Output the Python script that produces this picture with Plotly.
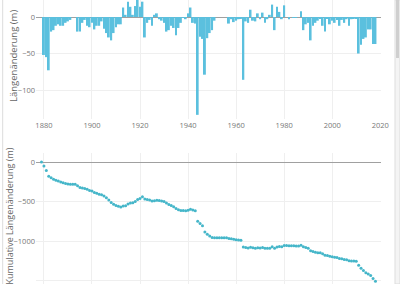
import plotly.graph_objects as go

# ---- data ----
years = list(range(1880, 2019))
annual_change = [
    -52, -55, -73, -20, -18, -12, -10, -12, -12, -8,          # 1880-1889
    -6, -4, 0, 0, -20, -20, -8, -4, -12, -14,                 # 1890-1899
    -8, -17, -12, -12, -6, -16, -22, -28, -32, -22,           # 1900-1909
    -14, -10, -10, 13, 3, 21, 14, 3, 15, 25,                  # 1910-1919
    14, 21, -28, -8, -4, -12, 3, 5, -3, -5,                   # 1920-1929
    -8, -20, -18, -12, -15, -25, -15, -8, -1, -3,             # 1930-1939
    5, 13, -8, -9, -134, -27, -30, -79, -29, -22,             # 1940-1949
    -18, -5, 0, 0, 0, 0, 0, -9, -3, -7,                       # 1950-1959
    -5, -3, -2, -86, -6, -8, 10, -5, -6, 5,                   # 1960-1969
    -3, 6, -8, -3, 3, 17, -18, 14, 7, -3,                     # 1970-1979
    16, 0, -3, 0, -1, -1, 0, 8, -18, -10,                     # 1980-1989
    -8, -32, -12, -8, -5, -2, -12, -20, -2, -10,              # 1990-1999
    -5, -8, -4, -12, -4, -8, -3, -12, -3, -2,                 # 2000-2009
    -2, -50, -38, -30, -28, -17, -17, -37, -37,               # 2010-2018
]

cum_years = list(range(1879, 2019))
cumulative_change = [
    0,                                                                  # 1879
    -52, -107, -180, -200, -218, -230, -240, -252, -264, -272,          # 1880-1889
    -278, -282, -282, -282, -302, -322, -330, -334, -346, -360,         # 1890-1899
    -368, -385, -397, -409, -415, -431, -453, -481, -513, -535,         # 1900-1909
    -549, -559, -569, -556, -553, -532, -518, -515, -500, -475,         # 1910-1919
    -461, -440, -468, -476, -480, -492, -489, -484, -487, -492,         # 1920-1929
    -500, -520, -538, -550, -565, -590, -605, -613, -614, -617,         # 1930-1939
    -612, -599, -607, -616, -750, -777, -807, -886, -915, -937,         # 1940-1949
    -955, -960, -960, -960, -960, -960, -960, -969, -972, -979,         # 1950-1959
    -984, -987, -989, -1075, -1081, -1089, -1079, -1084, -1090, -1085,  # 1960-1969
    -1088, -1082, -1090, -1093, -1090, -1073, -1091, -1077, -1070, -1073,  # 1970-1979
    -1057, -1057, -1060, -1060, -1061, -1062, -1062, -1054, -1072, -1082,  # 1980-1989
    -1090, -1122, -1134, -1142, -1147, -1149, -1161, -1181, -1183, -1193,  # 1990-1999
    -1198, -1206, -1210, -1222, -1226, -1234, -1237, -1249, -1252, -1254,  # 2000-2009
    -1256, -1306, -1344, -1374, -1402, -1419, -1436, -1473, -1510,         # 2010-2018
]

x_ticks = [1880, 1900, 1920, 1940, 1960, 1980, 2000, 2020]
y1_ticks = [-100, -50, 0]
y2_ticks = [-1500, -1000, -500, 0]
y1_title = "Längenänderung (m)"
y2_title = "Kumulative Längenänderung (m)"

W, H = 400, 284
bar_color = "#5BC0DE"
dot_color = "#45B6C9"
tick_font = dict(family="Open Sans", size=7.5, color="#777")

fig = go.Figure()
fig.add_trace(go.Bar(x=years, y=annual_change, marker_color=bar_color,
                     marker_line_width=0, xaxis="x", yaxis="y", showlegend=False))
fig.add_trace(go.Scatter(x=cum_years, y=cumulative_change, mode="markers",
                         marker=dict(size=3, color=dot_color),
                         xaxis="x2", yaxis="y2", showlegend=False))

xl, xr = 36 / W, 381 / W
xrange = [1876.7, 2020.3]
common_x = dict(domain=[xl, xr], range=xrange, tickvals=x_ticks, tickfont=tick_font,
                showgrid=True, gridcolor="#efefef", gridwidth=1, zeroline=False,
                showline=False, ticks="", automargin=False)
fig.update_layout(
    template="none",
    width=W, height=H,
    margin=dict(l=0, r=0, t=0, b=0, pad=0),
    paper_bgcolor="white", plot_bgcolor="white",
    bargap=0.2,
    xaxis=dict(anchor="y", **common_x),
    xaxis2=dict(anchor="y2", showticklabels=False, **common_x),
    yaxis=dict(domain=[1 - 119 / H, 1.0], range=[-139.7, 23.3], tickvals=y1_ticks,
               tickfont=tick_font, showgrid=True, gridcolor="#efefef", ticks="",
               zeroline=True, zerolinecolor="#a0a0a0", zerolinewidth=1, automargin=False),
    yaxis2=dict(domain=[0, 1 - 153 / H], range=[-1544, 114], tickvals=y2_ticks,
                tickfont=tick_font, showgrid=True, gridcolor="#efefef", ticks="",
                zeroline=True, zerolinecolor="#a0a0a0", zerolinewidth=1, automargin=False),
    annotations=[
        dict(text=y1_title, xref="paper", yref="paper", x=14 / W, y=1 - 56 / H,
             xanchor="center", yanchor="middle", textangle=-90, showarrow=False,
             font=dict(family="Open Sans", size=9.5, color="#666")),
        dict(text=y2_title, xref="paper", yref="paper", x=8.5 / W, y=1 - 216 / H,
             xanchor="center", yanchor="middle", textangle=-90, showarrow=False,
             font=dict(family="Open Sans", size=9, color="#666")),
    ],
    shapes=[
        dict(type="line", xref="paper", yref="paper", x0=2.7 / W, x1=2.7 / W, y0=0, y1=1,
             line=dict(color="#dcdcdc", width=1)),
        dict(type="rect", xref="paper", yref="paper", x0=395 / W, x1=1, y0=0, y1=1,
             fillcolor="#f4f4f4", line=dict(color="#dddddd", width=1)),
        dict(type="rect", xref="paper", yref="paper", x0=396 / W, x1=399 / W,
             y0=1 - 58 / H, y1=1, fillcolor="#cfcfcf", line=dict(width=0)),
    ],
)

fig.write_html("out.html")
